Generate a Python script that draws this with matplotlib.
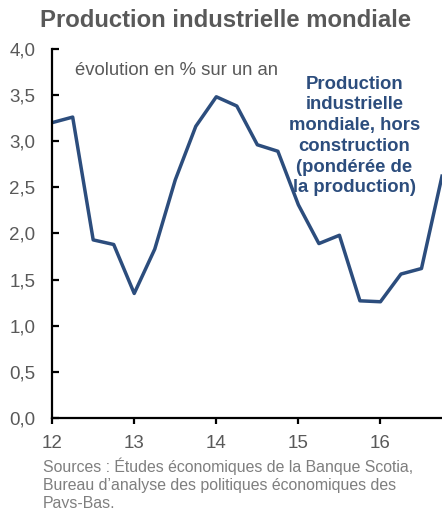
import matplotlib.pyplot as plt
from matplotlib.ticker import FuncFormatter

plt.rcParams['font.family'] = ['Liberation Sans', 'DejaVu Sans']

# données trimestrielles (évolution en % sur un an)
quarters = [12.0, 12.25, 12.5, 12.75, 13.0, 13.25, 13.5, 13.75,
            14.0, 14.25, 14.5, 14.75, 15.0, 15.25, 15.5, 15.75,
            16.0, 16.25, 16.5, 16.75]
production = [3.20, 3.26, 1.93, 1.88, 1.35, 1.83, 2.58, 3.16,
              3.48, 3.38, 2.96, 2.89, 2.31, 1.89, 1.98, 1.27,
              1.26, 1.56, 1.62, 2.62]
year_ticks = [12, 13, 14, 15, 16]

line_color = '#2c4d7d'
gray = '#595959'

fig = plt.figure(figsize=(4.42, 5.08), dpi=100)
ax = fig.add_axes([0.118, 0.177, 0.882, 0.727])

ax.plot(quarters, production, color=line_color, linewidth=2.5)

ax.set_xlim(12, 16.75)
ax.set_ylim(0, 4.0)
ax.set_xticks(year_ticks)
ax.set_yticks([0, 0.5, 1.0, 1.5, 2.0, 2.5, 3.0, 3.5, 4.0])
ax.yaxis.set_major_formatter(FuncFormatter(lambda v, p: f"{v:.1f}".replace('.', ',')))

for s in ['top', 'right']:
    ax.spines[s].set_visible(False)
for s in ['left', 'bottom']:
    ax.spines[s].set_linewidth(1.6)
    ax.spines[s].set_color('black')

ax.tick_params(axis='y', direction='in', length=5, width=1.6, labelsize=13.5,
               labelcolor=gray, pad=12)
ax.tick_params(axis='x', direction='out', length=4, width=1.6, labelsize=13.5,
               labelcolor=gray, pad=8)

fig.text(0.51, 0.96, "Production industrielle mondiale", ha='center', va='center',
         fontsize=17.2, fontweight='bold', color=gray)

ax.text(0.059, 0.94, "évolution en % sur un an", transform=ax.transAxes,
        ha='left', va='center', fontsize=13.3, color=gray)

ax.text(0.775, 0.764, "Production\nindustrielle\nmondiale, hors\nconstruction\n(pondérée de\nla production)",
        transform=ax.transAxes, ha='center', va='center', fontsize=13.3,
        fontweight='bold', color=line_color, linespacing=1.29)

fig.text(0.097, 0.1, "Sources : Études économiques de la Banque Scotia,\n"
         "Bureau d’analyse des politiques économiques des\nPays-Bas.",
         ha='left', va='top', fontsize=11.4, color='#7f7f7f', linespacing=1.27)

plt.savefig('out.png', dpi=100)
